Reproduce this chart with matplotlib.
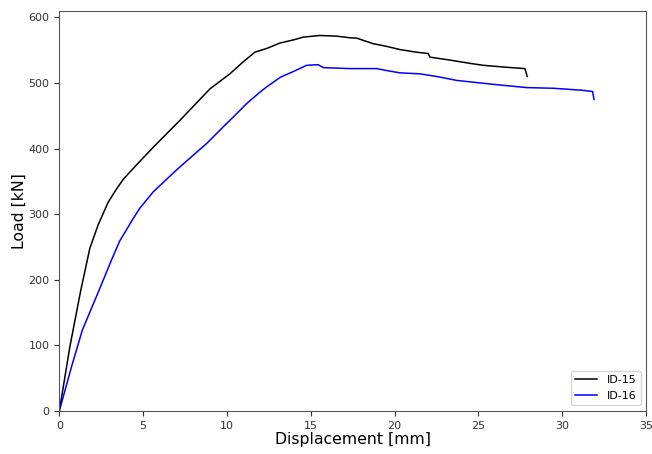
import matplotlib
matplotlib.use("Agg")
import matplotlib.pyplot as plt

# Load-displacement curves
disp_15 = [0.0, 0.63, 1.28, 1.82, 2.32, 2.91, 3.4, 3.81, 4.4, 5.6, 7.19,
           8.98, 10.17, 11.0, 11.66, 12.4, 13.16, 14.0, 14.55, 15.54, 16.54,
           17.33, 17.73, 18.72, 19.5, 20.32, 21.31, 22.0, 22.1, 23.3, 24.49,
           25.29, 26.68, 27.77, 27.91]
load_15 = [0, 98, 184, 248, 284, 318, 338, 353, 369.6, 402, 443,
           491, 514, 533, 547, 553, 561, 566, 570, 572.5, 571.5,
           569, 568.5, 560, 556, 551, 547, 545, 539.5, 535, 530,
           527, 524, 522, 510]

disp_16 = [0.0, 0.73, 1.37, 2.37, 3.11, 3.6, 4.0, 4.4, 4.8, 5.6, 6.89, 7.19,
           8.08, 8.78, 9.77, 10.37, 11.17, 11.96, 12.36, 13.2, 14.0, 14.75,
           15.44, 15.74, 17.33, 17.93, 18.93, 19.52, 20.32, 21.51, 22.5, 23.7,
           25.88, 27.08, 27.88, 29.47, 31.16, 31.81, 31.89]
load_16 = [0, 67.5, 123, 184, 230, 259, 276, 293, 309, 334, 365, 372,
           392, 407.6, 433, 448, 468.5, 486, 494, 509, 518, 527,
           528, 523.5, 522, 522, 522, 519, 515.5, 514, 510, 504,
           498, 495, 493, 492, 489, 487, 475]

fig, ax = plt.subplots(figsize=(6.52, 4.54), dpi=100)
fig.subplots_adjust(left=0.091, right=0.991, top=0.976, bottom=0.095)

ax.plot(disp_15, load_15, color="black", lw=1.1, label="ID-15")
ax.plot(disp_16, load_16, color="blue", lw=1.1, label="ID-16")

ax.set_xlim(0, 35)
ax.set_ylim(0, 610)
ax.set_xlabel("Displacement [mm]", fontsize=11.3, labelpad=1)
ax.set_ylabel("Load [kN]", fontsize=11.3, labelpad=1)
ax.tick_params(labelsize=8, colors="#333333")
for s in ax.spines.values():
    s.set_color("#555555")
ax.legend(loc="lower right", fontsize=8)

fig.savefig("out.png", dpi=100)
